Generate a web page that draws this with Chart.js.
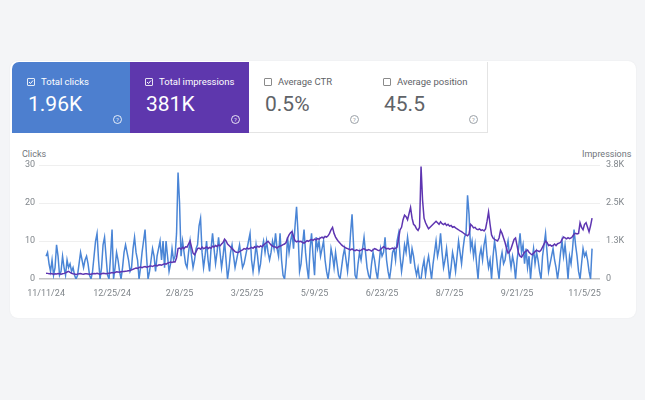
<!DOCTYPE html>
<html>
<head>
<meta charset="utf-8">
<script src="https://cdn.jsdelivr.net/npm/chart.js@4.4.1/dist/chart.umd.min.js"></script>
<style>
  html, body { margin: 0; padding: 0; }
  body { width: 645px; height: 400px; background: #f4f5f7; font-family: Roboto, 'Noto Sans', sans-serif; position: relative; overflow: hidden; }
  .card { position: absolute; left: 10px; top: 61px; width: 626px; height: 257px; background: #fff; border-radius: 8px; box-shadow: 0 0 2px rgba(0,0,0,0.06); }
  .tile { position: absolute; top: 62px; height: 71px; box-sizing: border-box; }
  .tile .lbl { position: absolute; left: 29px; top: 14px; font-size: 9.5px; line-height: 12px; }
  .tile .box { position: absolute; left: 15px; top: 16px; width: 8px; height: 8px; box-sizing: border-box; border: 1px solid; border-radius: 1px; }
  .tile .box svg { position: absolute; left: 0; top: 0; }
  .tile .val { position: absolute; left: 16px; top: 32px; font-size: 21px; line-height: 21px; }
  .tile .help { position: absolute; left: 101px; top: 53px; width: 9px; height: 9px; box-sizing: border-box; border: 1px solid; border-radius: 50%; font-size: 6px; line-height: 7px; text-align: center; }
  .on { color: #fff; }
  .on .box, .on .help { border-color: rgba(255,255,255,0.85); }
  .on .help { color: rgba(255,255,255,0.85); }
  .off { background: #fff; border-right: 1px solid #e4e4e4; border-bottom: 1px solid #e4e4e4; }
  .off .lbl { color: #5f6368; }
  .off .val { color: #5f6368; }
  .off .box { border-color: #8a8a8a; }
  .off .help { border-color: #9aa0a6; color: #9aa0a6; }
  .axis-title { position: absolute; top: 149px; font-size: 9px; color: #70757a; }
  #chart { position: absolute; left: 10px; top: 140px; }
</style>
</head>
<body>
<div class="card"></div>

<div class="tile on" style="left:12px;width:118px;background:#4d7fcf;border-top-left-radius:7px;">
  <div class="box"><svg width="6" height="6" viewBox="0 0 6 6"><path d="M1 3 L2.5 4.5 L5 1.5" stroke="#fff" stroke-width="1" fill="none"/></svg></div>
  <div class="lbl">Total clicks</div>
  <div class="val">1.96K</div>
  <div class="help">?</div>
</div>
<div class="tile on" style="left:130px;width:119px;background:#5e37ad;">
  <div class="box"><svg width="6" height="6" viewBox="0 0 6 6"><path d="M1 3 L2.5 4.5 L5 1.5" stroke="#fff" stroke-width="1" fill="none"/></svg></div>
  <div class="lbl">Total impressions</div>
  <div class="val">381K</div>
  <div class="help">?</div>
</div>
<div class="tile off" style="left:249px;width:120px;">
  <div class="box"></div>
  <div class="lbl">Average CTR</div>
  <div class="val">0.5%</div>
  <div class="help">?</div>
</div>
<div class="tile off" style="left:368px;width:120px;">
  <div class="box"></div>
  <div class="lbl">Average position</div>
  <div class="val">45.5</div>
  <div class="help">?</div>
</div>

<div class="axis-title" style="left:22px;">Clicks</div>
<div class="axis-title" style="left:582px;">Impressions</div>

<canvas id="chart" width="626" height="170"></canvas>

<script>
// ---------- Dados ----------
const startDate = [2024, 10, 11];
const tickDates = ['11/11/24','12/25/24','2/8/25','3/25/25','5/9/25','6/23/25','8/7/25','9/21/25','11/5/25'];
const clickTicks = [0, 10, 20, 30];
const impressionTickLabels = ['0', '1.3K', '2.5K', '3.8K'];

const clicks = [
  6,7,4,2,5,1,3,9,6,1,
  2,6,3,1,5,3,4,2,3,1,
  0,1,4,7,5,3,5,6,4,1,
  0,2,6,10,12,5,0,3,9,11,
  6,1,0,6,13,0,3,7,5,2,
  0,3,7,9,7,5,2,3,8,11,
  7,5,0,3,7,10,13,6,0,2,
  5,8,6,2,6,8,10,5,10,3,
  10,6,2,4,8,5,6,12,28,20,
  6,10,7,4,3,7,10,6,3,5,
  8,9,14,16,7,3,6,10,5,2,
  8,12,8,4,7,11,7,3,6,10,
  5,0,3,7,9,6,3,5,7,9,
  6,3,4,6,8,10,12,5,2,5,
  9,6,2,4,8,10,7,10,7,5,
  7,10,8,12,8,6,12,5,1,0,
  4,11,7,10,12,8,14,19,12,2,
  4,9,13,7,3,0,8,12,6,1,
  11,8,10,6,8,10,5,2,0,3,
  8,6,3,7,4,1,0,3,6,8,
  5,2,6,12,17,9,1,0,4,7,
  5,8,11,7,3,1,0,4,7,5,
  2,0,4,8,6,7,11,5,2,0,
  3,7,8,5,10,12,6,2,5,9,
  7,11,8,4,8,6,3,1,3,0,
  0,3,5,1,4,6,3,0,4,7,
  10,6,8,12,7,3,5,8,4,0,
  3,7,5,2,6,10,7,4,8,11,
  12,22,17,8,10,6,9,4,0,6,
  8,5,9,11,6,3,5,0,6,10,
  7,3,0,5,7,4,5,8,10,6,
  3,6,4,0,5,8,12,7,9,4,
  8,3,6,0,5,8,4,7,5,2,
  0,6,9,12,7,2,4,6,8,5,
  3,0,3,7,10,6,9,5,0,6,
  4,8,13,9,6,2,0,4,8,6,
  7,5,2,0,8
];

const impressions = [
  190,185,175,180,170,160,175,165,180,170,
  160,175,185,200,230,250,215,190,175,165,
  150,160,170,180,165,160,175,170,165,155,
  160,170,180,175,185,170,160,175,185,180,
  170,180,190,200,210,200,215,240,230,220,
  240,250,245,255,260,270,280,300,320,340,
  360,350,380,390,370,400,410,390,400,420,
  430,410,440,450,430,460,470,455,480,500,
  490,520,540,560,545,570,560,700,1000,1020,
  980,1040,1000,1060,1050,1150,1250,1050,850,800,
  900,1000,1020,980,1050,1000,1020,1060,1000,1040,
  1010,1080,1050,1100,1070,1120,1090,1150,1200,1310,
  1250,1150,1100,1050,1000,950,900,880,870,900,
  930,960,1000,980,1020,990,1010,1040,1010,1060,
  1030,1080,1050,1090,1060,1120,1160,1200,1240,1180,
  1120,1080,1060,1050,1020,1060,1080,1100,1130,1150,
  1200,1350,1450,1520,1560,1400,1260,1220,1250,1230,
  1240,1200,1180,1220,1260,1240,1280,1300,1270,1310,
  1290,1330,1310,1350,1380,1340,1400,1380,1420,1500,
  1620,1700,1500,1380,1300,1230,1180,1120,1080,1050,
  1020,1000,980,960,990,950,930,960,940,920,
  950,980,1000,960,940,970,950,920,960,1000,
  980,950,930,970,1020,1060,1030,990,1010,980,
  1000,1020,990,1010,1050,1300,1620,1700,1950,2100,
  2050,1950,2150,2350,2000,1800,1750,1650,1600,1700,
  3700,2600,2000,1850,1750,1650,1700,1750,1800,1850,
  1900,1850,1800,1880,1820,1790,1830,1760,1800,1740,
  1760,1700,1720,1680,1650,1620,1580,1560,1520,1480,
  1450,1420,1480,1800,1750,1680,1700,1640,1620,1650,
  1600,1620,1580,1650,1900,2200,1800,1450,1350,1300,
  1280,1250,1350,1600,1500,1350,1200,1000,850,900,
  1000,1150,1300,1350,1100,850,750,720,800,880,
  920,950,880,830,800,850,900,950,920,900,
  950,1050,1150,1250,1200,1100,1120,1080,1100,1150,
  1100,1160,1180,1200,1300,1380,1350,1320,1360,1330,
  1350,1400,1480,1500,1480,1500,1850,1700,1620,1800,
  1850,1700,1550,1750,2000
];

// ---------- Datas (um rótulo por dia) ----------
const days = clicks.map((_, i) => {
  const d = new Date(Date.UTC(startDate[0], startDate[1], startDate[2] + i));
  return (d.getUTCMonth() + 1) + '/' + d.getUTCDate() + '/' + String(d.getUTCFullYear()).slice(2);
});

const tickFont = { family: 'Roboto', size: 9 };
const tickColor = '#80868b';

new Chart(document.getElementById('chart'), {
  type: 'line',
  data: {
    datasets: [
      { label: 'Impressions', yAxisID: 'y1', data: impressions.map((v, i) => ({ x: i, y: v })),
        borderColor: '#5e35b1', borderWidth: 1.5, pointRadius: 0, tension: 0 },
      { label: 'Clicks', yAxisID: 'y', data: clicks.map((v, i) => ({ x: i, y: v })),
        borderColor: '#4a85d6', borderWidth: 1.5, pointRadius: 0, tension: 0 }
    ]
  },
  options: {
    responsive: false,
    animation: false,
    layout: { padding: { top: 25 } },
    plugins: { legend: { display: false }, tooltip: { enabled: false } },
    scales: {
      x: {
        type: 'linear', min: -4.7, max: 369.3,
        grid: { display: false, drawTicks: false }, border: { display: false },
        afterBuildTicks: s => { s.ticks = tickDates.map(l => ({ value: days.indexOf(l) })); },
        afterFit: s => { s.height = 31; },
        ticks: { autoSkip: false, maxRotation: 0, padding: 9, color: tickColor, font: tickFont, callback: v => days[v] }
      },
      y: {
        position: 'left', min: 0, max: 30,
        afterBuildTicks: s => { s.ticks = clickTicks.map(v => ({ value: v })); },
        afterFit: s => { s.width = 29; },
        grid: { color: c => c.tick.value === 0 ? '#c4c4c4' : '#efefef', lineWidth: c => c.tick.value === 0 ? 1.5 : 1, drawTicks: false },
        border: { display: false },
        ticks: { padding: 4, color: tickColor, font: tickFont }
      },
      y1: {
        position: 'right', min: 0, max: 3750,
        afterBuildTicks: s => { s.ticks = impressionTickLabels.map((_, i) => ({ value: i * 1250 })); },
        afterFit: s => { s.width = 36; },
        grid: { drawOnChartArea: false, drawTicks: false },
        border: { display: false },
        ticks: { padding: 6, color: tickColor, font: tickFont, callback: v => impressionTickLabels[Math.round(v / 1250)] }
      }
    }
  }
});
</script>
</body>
</html>
